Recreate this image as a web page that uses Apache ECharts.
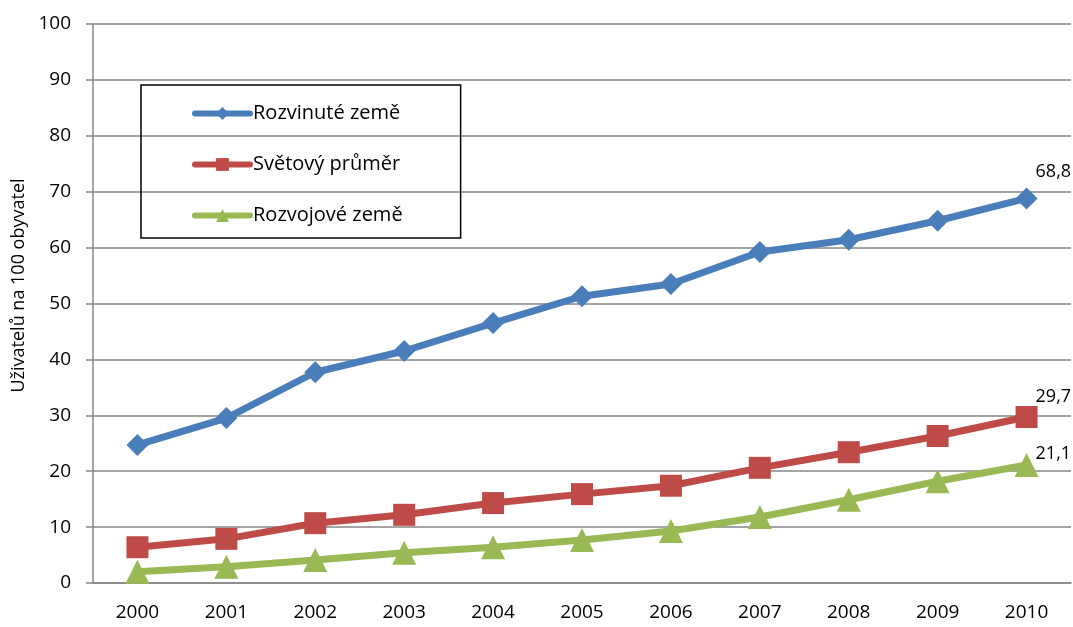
<!DOCTYPE html>
<html>
<head>
<meta charset="utf-8">
<script src="https://cdn.jsdelivr.net/npm/echarts@6/dist/echarts.min.js"></script>
<style>
  html, body { margin: 0; padding: 0; background: #fff; }
  #chart { width: 1073px; height: 627px; }
</style>
</head>
<body>
<div id="chart"></div>
<script>
const years = ['2000', '2001', '2002', '2003', '2004', '2005', '2006', '2007', '2008', '2009', '2010'];
const developed = [24.7, 29.5, 37.7, 41.5, 46.5, 51.3, 53.5, 59.2, 61.4, 64.8, 68.8];
const worldAvg = [6.4, 7.9, 10.7, 12.2, 14.3, 15.9, 17.4, 20.6, 23.4, 26.3, 29.7];
const developing = [2.0, 2.9, 4.1, 5.4, 6.4, 7.7, 9.3, 11.8, 14.9, 18.2, 21.1];
const yTicks = [0, 10, 20, 30, 40, 50, 60, 70, 80, 90, 100];

const FONT = 'Open Sans';
const AXIS_GRAY = '#868686';

// only the last point carries a data label, written with a decimal comma
const withEndLabel = (values, offset) =>
    values.map((v, i) => i === values.length - 1
        ? {
            value: v,
            label: {
                show: true,
                position: 'right',
                offset: offset,
                formatter: p => String(p.value).replace('.', ','),
                color: '#000',
                fontFamily: FONT,
                fontSize: 18,
            },
        }
        : v);

const makeSeries = (name, values, color, symbol, size, offset) => ({
    name: name,
    type: 'line',
    data: withEndLabel(values, offset),
    symbol: symbol,
    symbolSize: size,
    lineStyle: { color: color, width: 7, cap: 'round', join: 'round' },
    itemStyle: { color: color },
    emphasis: { disabled: true },
    animation: false,
});

const chart = echarts.init(document.getElementById('chart'));

chart.setOption({
    backgroundColor: '#fff',
    textStyle: { fontFamily: FONT },
    grid: {
        left: 93,
        right: 2,
        top: 24,
        bottom: 44,
        containLabel: false,
        outerBoundsMode: 'none',
    },
    legend: {
        orient: 'vertical',
        left: 141,
        top: 85,
        padding: [16, 58, 10, 51],
        itemGap: 26,
        itemWidth: 55,
        itemHeight: 16,
        borderColor: '#000',
        borderWidth: 1.5,
        lineStyle: { width: 6, cap: 'round' },
        textStyle: {
            color: '#000',
            fontFamily: FONT,
            fontSize: 20,
            lineHeight: 25,
            padding: [0, 0, 0, -2],
        },
        data: ['Rozvinuté země', 'Světový průměr', 'Rozvojové země'],
    },
    xAxis: {
        type: 'category',
        data: years,
        boundaryGap: true,
        axisLine: { lineStyle: { color: AXIS_GRAY, width: 1.5 } },
        axisTick: { show: false },
        axisLabel: {
            color: '#000',
            fontFamily: FONT,
            fontSize: 19,
            margin: 20,
        },
    },
    yAxis: {
        type: 'value',
        min: yTicks[0],
        max: yTicks[yTicks.length - 1],
        interval: 10,
        name: 'Uživatelů na 100 obyvatel',
        nameLocation: 'middle',
        nameGap: 63,
        nameTextStyle: {
            color: '#000',
            fontFamily: FONT,
            fontSize: 18,
            padding: [0, 0, 0, 36],
        },
        axisLine: { show: true, lineStyle: { color: AXIS_GRAY, width: 1.5 } },
        axisTick: { show: true, length: 7, lineStyle: { color: AXIS_GRAY, width: 1.5 } },
        axisLabel: {
            color: '#000',
            fontFamily: FONT,
            fontSize: 19,
            margin: 22,
        },
        splitLine: { lineStyle: { color: AXIS_GRAY, width: 1.5 } },
    },
    series: [
        makeSeries('Rozvinuté země', developed, '#4A7EBB', 'diamond', 22, [-7, -27]),
        makeSeries('Světový průměr', worldAvg, '#BE4B48', 'rect', 22, [-7, -20]),
        makeSeries('Rozvojové země', developing, '#98B954', 'triangle', 24, [-8, -11]),
    ],
});
</script>
</body>
</html>
